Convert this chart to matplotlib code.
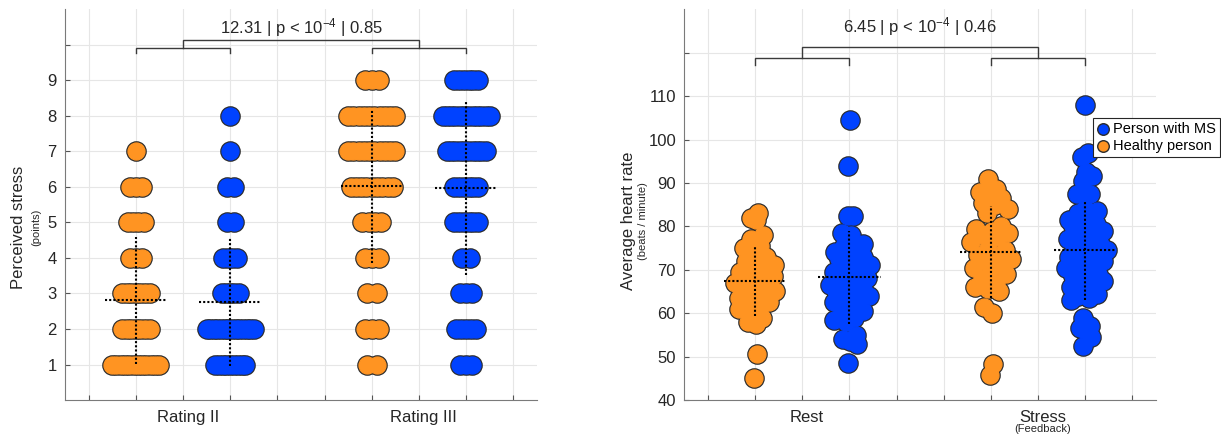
import numpy as np
import matplotlib
matplotlib.use('Agg')
import matplotlib.pyplot as plt
from matplotlib.transforms import blended_transform_factory

plt.rcParams['font.family'] = ['Liberation Sans', 'DejaVu Sans']
plt.rcParams['mathtext.fontset'] = 'custom'
plt.rcParams['mathtext.rm'] = 'Liberation Sans'
plt.rcParams['mathtext.it'] = 'Liberation Sans:italic'
plt.rcParams['mathtext.default'] = 'regular'

# ---------------- data ----------------
ratings = [1, 2, 3, 4, 5, 6, 7, 8, 9]
healthy_rating2 = [12, 7, 7, 3, 4, 3, 1, 0, 0]
ms_rating2 = [9, 14, 5, 4, 2, 2, 1, 1, 0]
healthy_rating3 = [2, 3, 2, 3, 4, 9, 10, 10, 3]
ms_rating3 = [3, 5, 3, 2, 6, 6, 10, 12, 6]

hr_healthy_rest = [45, 50.5, 57.5, 58, 59, 60.5, 61, 61.5, 62, 62.5, 63, 63.5, 64, 64.5,
                   65, 65.5, 66, 66.5, 67, 67, 67.5, 68, 68.5, 69, 69.5, 70, 70.5, 71,
                   71.5, 72, 73, 74, 75, 75.5, 77, 78, 81.5, 82, 83]
hr_ms_rest = [48.5, 53, 53.5, 54, 55, 58, 58.5, 59, 59.5, 60.5, 61.5, 62.5, 63, 63.5,
              64, 64.5, 65, 65.5, 66, 66.5, 67, 67.5, 68, 69, 69.5, 70, 70.5, 71, 72,
              72.5, 73, 74, 74, 75, 75.5, 76, 78, 78.5, 82.5, 82.5, 94, 104.5]
hr_healthy_stress = [45.8, 48.3, 60, 61.5, 65, 65.5, 66, 67, 68, 69, 70, 70.5, 71, 72,
                     72.5, 73, 73.5, 74.5, 75, 76.5, 77.5, 78, 78.5, 79, 79.5, 80, 83,
                     84, 85, 85.5, 86.5, 87.5, 88, 88.5, 91]
hr_ms_stress = [52.5, 54.5, 56, 56.5, 57, 59, 63, 63.5, 64, 64.5, 65, 66, 66.5, 67, 67.5,
                68, 68.5, 69, 70, 70.5, 71, 71.5, 72, 72.5, 73, 73.5, 74, 74.5, 75, 75.5,
                76, 76.5, 77, 77.5, 78, 79, 79.5, 80, 80.5, 81, 81.5, 82, 83, 83.5, 84,
                87.5, 87.5, 90.5, 91.5, 92.5, 96, 97, 108]

rating_labels = ['Rating II', 'Rating III']
hr_labels = ['Rest', 'Stress']
hr_sublabel = '(Feedback)'
legend_labels = ['Person with MS', 'Healthy person']
stats_rating = ('12.31', '-4', '0.85')
stats_hr = ('6.45', '-4', '0.46')

# ---------------- style ----------------
ORANGE = '#FF9422'
BLUE = '#0042FF'
EDGE = '#2b2b2b'
AXC = '#262626'
GRID = '#e6e6e6'
MS = 150
DOT = (0, (1.0, 1.0))

fig = plt.figure(figsize=(12.21, 4.34), dpi=100)
axL = fig.add_axes([0.0532, 0.0783, 0.3866, 0.9002])
axR = fig.add_axes([0.5605, 0.0783, 0.3862, 0.9002])

centers = [2, 7]


def discrete_points(values, counts, half=0.5):
    nmax = max(counts)
    xs, ys = [], []
    for v, n in zip(values, counts):
        if n == 0:
            continue
        w = half * n / nmax
        offs = np.linspace(-w, w, n) if n > 1 else np.array([0.0])
        xs.extend(offs)
        ys.extend([v] * n)
    return np.array(xs), np.array(ys, dtype=float)


def density_offsets(vals, half=0.47):
    v = np.asarray(vals, dtype=float)
    n = len(v)
    h = 1.06 * v.std(ddof=1) * n ** (-0.2)
    dens = np.exp(-((v[:, None] - v[None, :]) ** 2) / (2 * h * h)).sum(axis=1)
    w = half * dens / dens.max()
    u = 2 * ((np.arange(n) * 0.6180339887 + 0.31) % 1.0) - 1
    return w * u


def blob(ax, x, y, col):
    # outline layer underneath, fill layer on top -> only outer contour shows
    h = ax.scatter(x, y, s=MS, c=col, edgecolors=EDGE, linewidths=2.6, zorder=4)
    ax.scatter(x, y, s=MS, c=col, edgecolors=col, linewidths=0.9, zorder=4.5)
    return h


def stat_lines(ax, x, ys):
    ys = np.asarray(ys, dtype=float)
    m = ys.mean()
    s = ys.std(ddof=1)
    ax.plot([x - 0.66, x + 0.66], [m, m], ls=DOT, color='k', lw=1.5, zorder=6)
    ax.plot([x, x], [m - s, m + s], ls=DOT, color='k', lw=1.5, zorder=6)


def bracket(ax, x1, x2, ytop, ybot):
    ax.plot([x1, x1, x2, x2], [ybot, ytop, ytop, ybot], color='#3a3a3a', lw=1.0,
            zorder=3, clip_on=False, solid_joinstyle='miter')


def style_axes(ax, yticks, ylabels, ylim):
    ax.set_xlim(-0.5, 9.5)
    ax.set_ylim(*ylim)
    ax.set_xticks(range(10))
    ax.set_xticklabels([''] * 10)
    ax.set_yticks(yticks)
    ax.set_yticklabels(ylabels)
    ax.grid(True, color=GRID, lw=0.8, zorder=0)
    ax.set_axisbelow(True)
    for sp in ['top', 'right']:
        ax.spines[sp].set_visible(False)
    for sp in ['left', 'bottom']:
        ax.spines[sp].set_color('#7a7a7a')
        ax.spines[sp].set_linewidth(0.8)
    ax.tick_params(direction='in', length=3.5, width=0.8, color='#555555',
                   labelcolor=AXC, labelsize=12)
    ax.tick_params(axis='y', pad=6)


# ---------------- left panel ----------------
groupsL = [(healthy_rating2, ORANGE, centers[0] - 1), (ms_rating2, BLUE, centers[0] + 1),
           (healthy_rating3, ORANGE, centers[1] - 1), (ms_rating3, BLUE, centers[1] + 1)]
for counts, col, xc in groupsL:
    xo, yv = discrete_points(ratings, counts)
    blob(axL, xc + xo, yv, col)
    stat_lines(axL, xc, yv)

style_axes(axL, list(range(1, 11)), [str(r) for r in ratings] + [''], (0, 11))
bracket(axL, 1, 3, 9.9, 9.77)
bracket(axL, 6, 8, 9.9, 9.77)
bracket(axL, 2, 7, 10.13, 9.9)
axL.text(4.5, 10.33, f'{stats_rating[0]} | p < 10$^{{{stats_rating[1]}}}$ | {stats_rating[2]}',
         ha='center', va='baseline', fontsize=12, color=AXC)
trL = blended_transform_factory(axL.transData, axL.transAxes)
for c, lab in zip(centers, rating_labels):
    axL.text(c + 0.1, -0.044, lab, transform=trL, ha='center', va='center',
             fontsize=12, color=AXC)

fig.text(18.5 / 1221, 1 - 227 / 434, 'Perceived stress', rotation=90, ha='center',
         va='center', fontsize=12, color=AXC)
fig.text(36 / 1221, 1 - 227 / 434, '(points)', rotation=90, ha='center',
         va='center', fontsize=8, color=AXC)

# ---------------- right panel ----------------
groupsR = [(hr_healthy_rest, ORANGE, centers[0] - 1), (hr_ms_rest, BLUE, centers[0] + 1),
           (hr_healthy_stress, ORANGE, centers[1] - 1), (hr_ms_stress, BLUE, centers[1] + 1)]
handles = {}
for vals, col, xc in groupsR:
    xo = density_offsets(vals)
    handles[col] = blob(axR, xc + xo, vals, col)
    stat_lines(axR, xc, vals)

style_axes(axR, list(range(40, 130, 10)), [str(v) for v in range(40, 120, 10)] + [''], (40, 130))
bracket(axR, 1, 3, 118.8, 117.1)
bracket(axR, 6, 8, 118.8, 117.1)
bracket(axR, 2, 7, 121.4, 118.8)
axR.text(4.5, 124.8, f'{stats_hr[0]} | p < 10$^{{{stats_hr[1]}}}$ | {stats_hr[2]}',
         ha='center', va='baseline', fontsize=12, color=AXC)
trR = blended_transform_factory(axR.transData, axR.transAxes)
for c, lab in zip(centers, hr_labels):
    axR.text(c + 0.1, -0.044, lab, transform=trR, ha='center', va='center',
             fontsize=12, color=AXC)
axR.text(centers[1] + 0.1, -0.073, hr_sublabel, transform=trR, ha='center', va='center',
         fontsize=8, color=AXC)

fig.text(628 / 1221, 1 - 221 / 434, 'Average heart rate', rotation=90, ha='center',
         va='center', fontsize=12, color=AXC)
fig.text(643 / 1221, 1 - 221 / 434, '(beats / minute)', rotation=90, ha='center',
         va='center', fontsize=8, color=AXC)

leg = axR.legend([handles[BLUE], handles[ORANGE]], legend_labels, loc='upper left',
                 bbox_to_anchor=(0.866, 0.722), borderaxespad=0, frameon=True,
                 fancybox=False, framealpha=1, edgecolor=AXC, fontsize=10.5,
                 markerscale=0.68, scatterpoints=1, handlelength=0.8,
                 handletextpad=0.3, borderpad=0.3, labelspacing=0.15)
leg.get_frame().set_linewidth(0.8)
for lh in leg.legend_handles:
    lh.set_linewidth(1.0)
leg.set_zorder(10)

fig.savefig('out.png', dpi=100)
